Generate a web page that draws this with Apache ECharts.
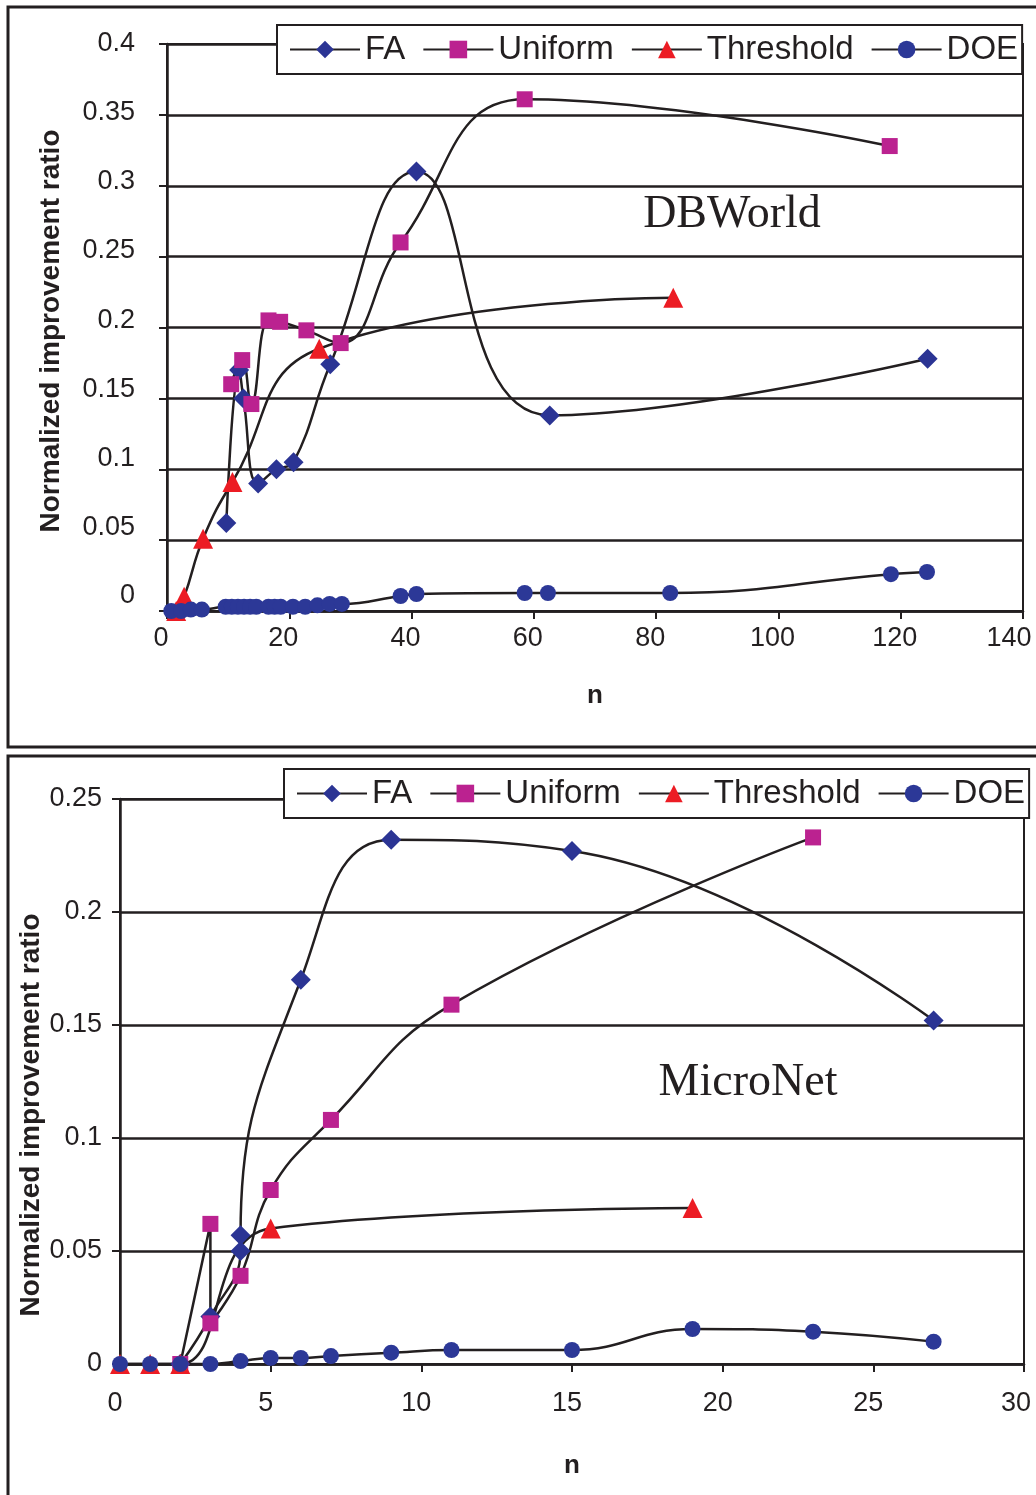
<!DOCTYPE html>
<html>
<head>
<meta charset="utf-8">
<script src="https://cdn.jsdelivr.net/npm/echarts@6/dist/echarts.min.js"></script>
<style>
  html, body { margin: 0; padding: 0; background: #fff; }
  #main { width: 1036px; height: 1495px; }
</style>
</head>
<body>
<div id="main"></div>
<script>
// DBWorld (top chart): [n, ratio]
const dbFA = [[9.7,0.062],[11.8,0.17],[12.5,0.15],[14.9,0.09],[17.9,0.1],[20.7,0.105],[26.7,0.174],[40.8,0.31],[62.6,0.138],[124.4,0.178]];
const dbUniform = [[10.5,0.16],[12.3,0.177],[13.8,0.146],[16.6,0.205],[18.5,0.204],[22.8,0.198],[28.4,0.189],[38.2,0.26],[58.5,0.361],[118.2,0.328]];
const dbThreshold = [[1.5,0],[2.8,0.01],[5.9,0.051],[10.7,0.091],[24.9,0.185],[82.8,0.221]];
const dbDOE = [[0.7,0],[2.3,0],[3.9,0.001],[5.7,0.001],[9.6,0.003],[10.6,0.003],[11.6,0.003],[12.6,0.003],[13.6,0.003],
  [14.6,0.003],[16.6,0.003],[17.6,0.003],[18.6,0.003],[20.6,0.003],[22.6,0.003],[24.6,0.004],[26.6,0.005],[28.6,0.005],
  [38.2,0.0106],[40.8,0.012],[58.5,0.0127],[62.3,0.0127],[82.3,0.0127],[118.4,0.026],[124.3,0.0275]];

// MicroNet (bottom chart): [n, ratio]
const mnFA = [[2,0],[3,0.021],[4,0.05],[4,0.057],[6,0.17],[9,0.232],[15,0.227],[27,0.152]];
const mnUniform = [[2,0],[3,0.062],[3,0.018],[4,0.039],[5,0.077],[7,0.108],[11,0.159],[23,0.233]];
const mnThreshold = [[0,0],[1,0],[2,0],[5,0.06],[19,0.069]];
const mnDOE = [[0,0],[1,0],[2,0],[3,0],[4,0.0013],[5,0.0027],[6,0.0027],[7,0.0035],[9,0.005],[11,0.0062],[15,0.0062],[19,0.0155],[23,0.0143],[27,0.0099]];

const seriesNames = ['FA', 'Uniform', 'Threshold', 'DOE'];

const ink = '#231f20';
const font = 'Liberation Sans, Arial, sans-serif';

// marker style for each series
const marks = {
  FA:        { symbol: 'diamond',  size: 20, color: '#2b3494' },
  Uniform:   { symbol: 'rect',     size: 16, color: '#bb2290' },
  Threshold: { symbol: 'triangle', size: 20, color: '#ec1c24' },
  DOE:       { symbol: 'circle',   size: 16, color: '#2c3897' }
};

function makeSeries(name, data, idx) {
  const m = marks[name];
  return {
    name: name,
    type: 'line',
    xAxisIndex: idx,
    yAxisIndex: idx,
    data: data,
    smooth: 0.45,
    clip: false,
    symbol: m.symbol,
    symbolSize: m.size,
    itemStyle: { color: m.color },
    lineStyle: { color: ink, width: 2.5 },
    emphasis: { disabled: true }
  };
}

function xAxisOf(idx, max, interval, labelMargin, nameGap, shift, lastShift) {
  return {
    type: 'value', gridIndex: idx, min: 0, max: max, interval: interval,
    name: 'n', nameLocation: 'middle', nameGap: nameGap,
    nameTextStyle: { fontFamily: font, fontSize: 26, fontWeight: 'bold', color: ink },
    axisLine: { lineStyle: { color: ink, width: 2.5 } },
    axisTick: { show: true, length: 8, lineStyle: { color: ink, width: 2 } },
    // labels sit a bit left of their ticks, as in the original; the last one stays inside the page
    axisLabel: {
      fontFamily: font, fontSize: 27, color: ink, margin: labelMargin,
      formatter: function (v) { return (v === max ? '{e|' : '{m|') + v + '}'; },
      rich: {
        m: { fontFamily: font, fontSize: 27, color: ink, padding: [0, 2 * shift, 0, 0] },
        e: { fontFamily: font, fontSize: 27, color: ink, padding: [0, 2 * lastShift, 0, 0] }
      }
    },
    splitLine: { show: false }
  };
}

function yAxisOf(idx, max, interval, labelMargin) {
  return {
    type: 'value', gridIndex: idx, min: 0, max: max, interval: interval,
    axisLine: { show: true, lineStyle: { color: ink, width: 2.5 } },
    axisTick: { show: true, length: 8, lineStyle: { color: ink, width: 2 } },
    axisLabel: { fontFamily: font, fontSize: 27, color: ink, margin: labelMargin },
    splitLine: { show: true, lineStyle: { color: ink, width: 2.5 } }
  };
}

// top chart tick labels sit a little higher the lower they are
const lift = {};
for (let s = 0; s <= 16; s++) lift['s' + s] = { fontFamily: font, fontSize: 27, color: ink, padding: [0, 0, 2 * s, 0] };

function legendOf(left, top) {
  return {
    data: seriesNames,
    left: left, top: top,
    itemWidth: 70, itemHeight: 22, itemGap: 17,
    padding: [8, 4, 8, 12],
    borderColor: ink, borderWidth: 2, backgroundColor: '#fff',
    selectedMode: false,
    textStyle: { fontFamily: font, fontSize: 33, color: ink }
  };
}

const chart = echarts.init(document.getElementById('main'), null, { renderer: 'canvas' });

const yTop = yAxisOf(0, 0.4, 0.05, 32);
yTop.axisLabel.formatter = function (v) {
  return '{s' + Math.round(37 * (0.4 - v)) + '|' + v + '}';
};
yTop.axisLabel.rich = lift;

chart.setOption({
  animation: false,
  backgroundColor: '#fff',
  grid: [
    { left: 167, right: 13, top: 44, bottom: 1495 - 611, outerBoundsMode: 'none', show: true, borderColor: ink, borderWidth: 2 },
    { left: 120, right: 12, top: 799, bottom: 1495 - 1364, outerBoundsMode: 'none', show: true, borderColor: ink, borderWidth: 2 }
  ],
  xAxis: [
    xAxisOf(0, 140, 20, 14, 72, 6, 14),
    xAxisOf(1, 30, 5, 26, 89, 5, 8)
  ],
  yAxis: [
    yTop,
    yAxisOf(1, 0.25, 0.05, 18)
  ],
  legend: [legendOf(277, 25), legendOf(284, 769)],
  graphic: [
    { type: 'rect', shape: { x: 8, y: 7, width: 1050, height: 740 }, style: { fill: null, stroke: ink, lineWidth: 3 }, z: 100 },
    { type: 'rect', shape: { x: 8, y: 756, width: 1050, height: 760 }, style: { fill: null, stroke: ink, lineWidth: 3 }, z: 100 },
    { type: 'text', x: 51, y: 331, rotation: Math.PI / 2,
      style: { text: 'Normalized improvement ratio', font: 'bold 28px ' + font, fill: ink, align: 'center', verticalAlign: 'middle' } },
    { type: 'text', x: 31, y: 1115, rotation: Math.PI / 2,
      style: { text: 'Normalized improvement ratio', font: 'bold 28px ' + font, fill: ink, align: 'center', verticalAlign: 'middle' } },
    { type: 'text', x: 732, y: 215,
      style: { text: 'DBWorld', font: '46px Liberation Serif, Times New Roman, serif', fill: ink, align: 'center', verticalAlign: 'middle' } },
    { type: 'text', x: 748, y: 1083,
      style: { text: 'MicroNet', font: '46px Liberation Serif, Times New Roman, serif', fill: ink, align: 'center', verticalAlign: 'middle' } }
  ],
  series: [
    makeSeries('FA', dbFA, 0),
    makeSeries('Uniform', dbUniform, 0),
    makeSeries('Threshold', dbThreshold, 0),
    makeSeries('DOE', dbDOE, 0),
    makeSeries('FA', mnFA, 1),
    makeSeries('Uniform', mnUniform, 1),
    makeSeries('Threshold', mnThreshold, 1),
    makeSeries('DOE', mnDOE, 1)
  ]
});
</script>
</body>
</html>
